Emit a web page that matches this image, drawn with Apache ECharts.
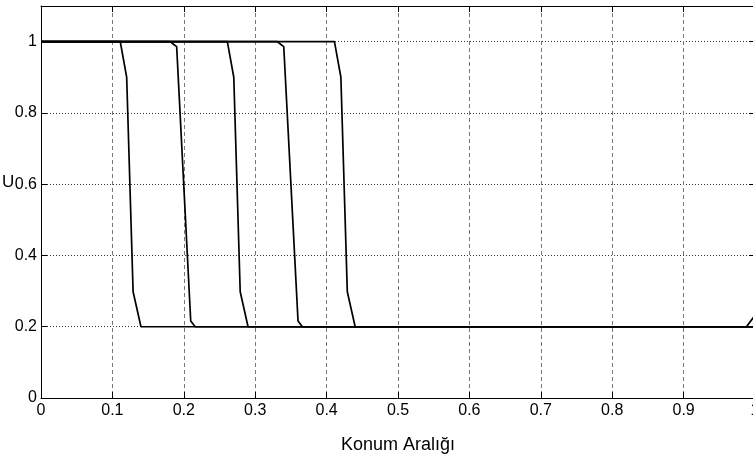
<!DOCTYPE html>
<html>
<head>
<meta charset="utf-8">
<script src="https://cdn.jsdelivr.net/npm/echarts@6/dist/echarts.min.js"></script>
<style>
  html, body { margin: 0; padding: 0; background: #fff; }
  #divChart { width: 753px; height: 464px; }
</style>
</head>
<body>
<div id="divChart"></div>
<script>
// one profile per time step
var xs1 = [0, 0.111, 0.12, 0.129, 0.14, 1];
var us1 = [1, 1, 0.9, 0.298, 0.2, 0.2];
var xs2 = [0, 0.181, 0.186, 0.19, 0.2097, 0.216, 1];
var us2 = [1, 1, 0.992, 0.986, 0.216, 0.2, 0.2];
var xs3 = [0, 0.261, 0.27, 0.279, 0.29, 1];
var us3 = [1, 1, 0.9, 0.298, 0.2, 0.2];
var xs4 = [0, 0.331, 0.336, 0.34, 0.36, 0.366, 1];
var us4 = [1, 1, 0.992, 0.986, 0.216, 0.2, 0.2];
var xs5 = [0, 0.411, 0.42, 0.429, 0.44, 0.988, 1];
var us5 = [1, 1, 0.9, 0.298, 0.2, 0.2, 0.232];

var xTicks = ['0', '0.1', '0.2', '0.3', '0.4', '0.5', '0.6', '0.7', '0.8', '0.9', '1'];
var yTicks = ['0', '0.2', '0.4', '0.6', '0.8', '1'];

var fontName = "'Liberation Sans', Arial, sans-serif";

function pairs(xs, ys) {
    var out = [];
    for (let i = 0; i < xs.length; ++i) {
        out.push([xs[i], ys[i]]);
    }
    return out;
}

function profile(xs, ys) {
    return {
        type: 'line',
        data: pairs(xs, ys),
        showSymbol: false,
        symbol: 'none',
        animation: false,
        lineStyle: { color: '#000', width: 1.7 }
    };
}

var chart = echarts.init(document.getElementById('divChart'));
var option = {
    animation: false,
    grid: {
        left: 41,
        top: 6,
        width: 714,
        bottom: 66,
        show: false,
        outerBoundsMode: 'none',
        containLabel: false
    },
    xAxis: [
        {
            type: 'value',
            min: 0,
            max: 1,
            interval: 0.1,
            name: 'Konum Aralığı',
            nameLocation: 'middle',
            nameGap: 38,
            nameTextStyle: { color: '#000', fontSize: 18, fontFamily: fontName },
            axisLine: { show: true, onZero: false, lineStyle: { color: '#000', width: 1 } },
            axisTick: { show: true, inside: true, length: 6, lineStyle: { color: '#000' } },
            axisLabel: {
                color: '#000',
                fontSize: 16,
                fontFamily: fontName,
                margin: 5,
                formatter: function (v) { return xTicks[Math.round(v * 10)]; }
            },
            splitLine: { show: true, lineStyle: { color: '#777', type: [4, 3], width: 1 } }
        },
        {
            type: 'value',
            position: 'top',
            min: 0,
            max: 1,
            interval: 0.1,
            axisLine: { show: true, onZero: false, lineStyle: { color: '#000', width: 1 } },
            axisTick: { show: true, inside: true, length: 6, lineStyle: { color: '#000' } },
            axisLabel: { show: false },
            splitLine: { show: false }
        }
    ],
    yAxis: [
        {
            type: 'value',
            min: 0,
            max: 1.1,
            interval: 0.2,
            axisLine: { show: true, onZero: false, lineStyle: { color: '#000', width: 1 } },
            axisTick: { show: true, inside: true, length: 6, lineStyle: { color: '#000' } },
            axisLabel: {
                color: '#000',
                fontSize: 16,
                fontFamily: fontName,
                margin: 4,
                showMaxLabel: false,
                formatter: function (v) { return yTicks[Math.round(v * 5)]; }
            },
            splitLine: { show: true, lineStyle: { color: '#333', type: [1, 2], width: 1 } }
        },
        {
            type: 'value',
            position: 'right',
            min: 0,
            max: 1.1,
            interval: 0.2,
            axisLine: { show: true, onZero: false, lineStyle: { color: '#000', width: 1 } },
            axisTick: { show: true, inside: true, length: 6, lineStyle: { color: '#000' } },
            axisLabel: { show: false },
            splitLine: { show: false }
        }
    ],
    graphic: [
        {
            type: 'text',
            left: 2,
            top: 174,
            style: { text: 'U', fill: '#000', fontSize: 17, fontFamily: fontName }
        }
    ],
    series: [
        profile(xs1, us1),
        profile(xs2, us2),
        profile(xs3, us3),
        profile(xs4, us4),
        profile(xs5, us5)
    ]
};
chart.setOption(option);
</script>
</body>
</html>
